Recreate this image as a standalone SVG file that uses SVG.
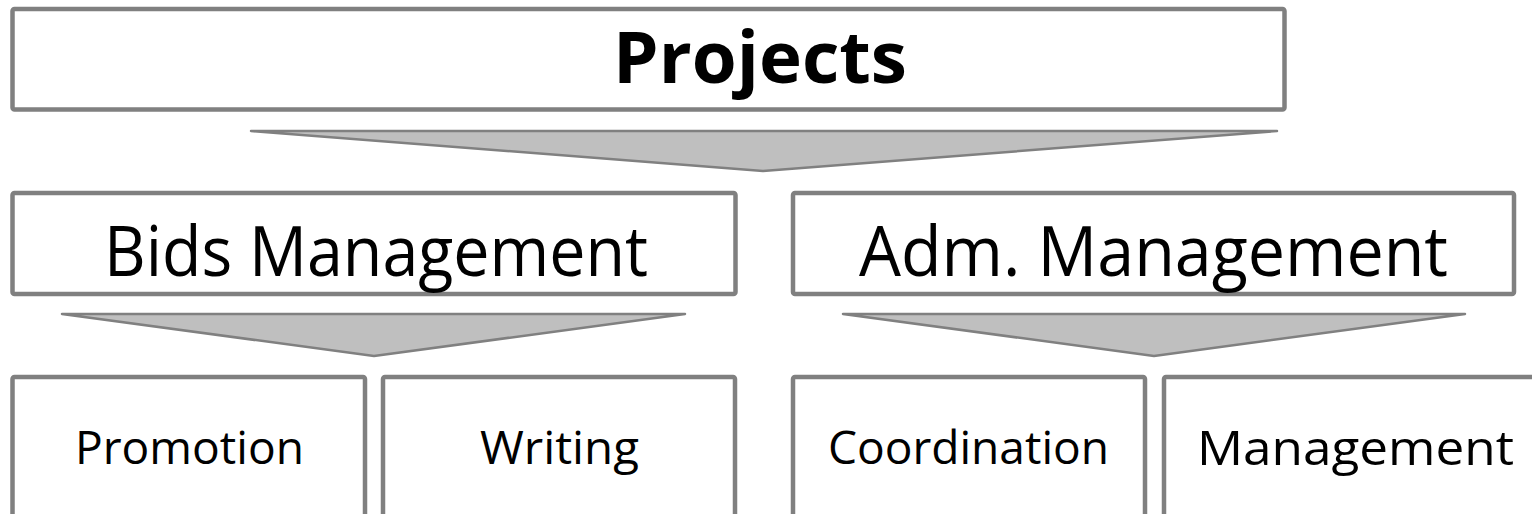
<svg xmlns="http://www.w3.org/2000/svg" width="1532" height="514" viewBox="0 0 1532 514">
<style>
.box{fill:#ffffff;stroke:#808080;stroke-width:4.5;stroke-linejoin:round}
.arr{fill:#bfbfbf;stroke:#808080;stroke-width:2.5;stroke-linejoin:round}
.t{font-family:"Open Sans",Lato,"Liberation Sans",sans-serif;fill:#000000;text-anchor:middle;font-variant-ligatures:none}
.b{font-weight:bold}
</style>
<rect width="1532" height="514" fill="#ffffff"/>
<g id="connectors">
<polygon class="arr" points="251,131 1277,131 763,171"/>
<polygon class="arr" points="62,314 685,314 374,356"/>
<polygon class="arr" points="843,314 1465,314 1154,356"/>
</g>
<g id="projects">
<rect class="box" x="12.5" y="9" width="1272" height="100.5" rx="2"/>
<text class="t b" x="760" y="83" font-size="72" textLength="294" lengthAdjust="spacingAndGlyphs">Projects</text>
</g>
<g id="bids">
<rect class="box" x="12.5" y="193" width="723" height="101" rx="2"/>
<text class="t" x="376" y="276" font-size="70" textLength="544" lengthAdjust="spacingAndGlyphs">Bids Management</text>
</g>
<g id="adm">
<rect class="box" x="793" y="193" width="721" height="101" rx="2"/>
<text class="t" x="1153.5" y="276" font-size="70" textLength="589" lengthAdjust="spacingAndGlyphs">Adm. Management</text>
</g>
<g id="promotion">
<rect class="box" x="12.5" y="377" width="352.5" height="160" rx="2"/>
<text class="t" x="189.5" y="464" font-size="46" textLength="229" lengthAdjust="spacingAndGlyphs">Promotion</text>
</g>
<g id="writing">
<rect class="box" x="383" y="377" width="352" height="160" rx="2"/>
<text class="t" x="559.5" y="464" font-size="46" textLength="159" lengthAdjust="spacingAndGlyphs">Writing</text>
</g>
<g id="coordination">
<rect class="box" x="793" y="377" width="352" height="160" rx="2"/>
<text class="t" x="968.5" y="464" font-size="46" textLength="281" lengthAdjust="spacingAndGlyphs">Coordination</text>
</g>
<g id="management">
<rect class="box" x="1164" y="377" width="400" height="160" rx="2"/>
<text class="t" x="1355.5" y="465" font-size="48" textLength="317" lengthAdjust="spacingAndGlyphs">Management</text>
</g>
</svg>
